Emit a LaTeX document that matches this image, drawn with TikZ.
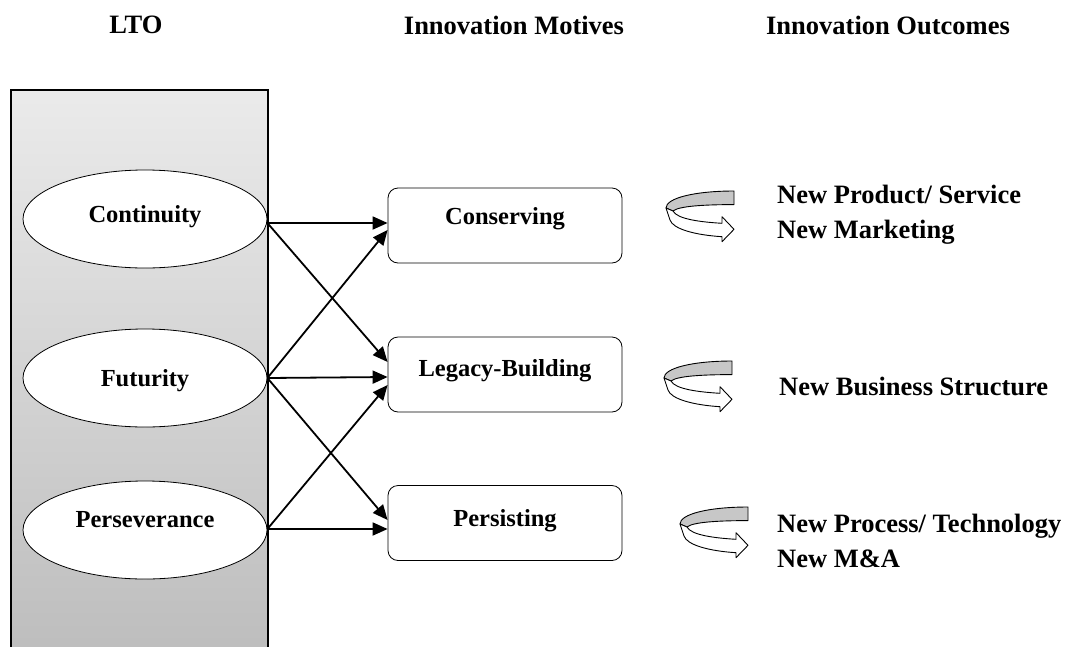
\documentclass[tikz,border=0pt]{standalone}
\usepackage{fontspec}
\setmainfont{Liberation Serif}
\usetikzlibrary{arrows.meta,
                shapes.geometric,
                positioning}

\begin{document}
\begin{tikzpicture}
[x=1pt,y=-1pt,>={Triangle[length=15pt,width=13pt]},
 every node/.style={font=\bfseries\fontsize{24.5}{29}\selectfont},
 head/.style={font=\bfseries\fontsize{26.5}{31}\selectfont},
 outcome/.style={font=\bfseries\fontsize{26.5}{35}\selectfont,align=left,anchor=west,inner sep=0pt},
 panel/.style={rectangle,draw,line width=1.3pt,top color=black!8,bottom color=black!26,minimum width=257pt,minimum height=570pt,inner sep=0pt},
 trait/.style={ellipse,draw,thick,fill=white,minimum width=244pt,minimum height=98pt,inner sep=0pt,text height=16pt},
 motive/.style={rectangle,draw,thick,rounded corners=10pt,fill=white,minimum width=234pt,minimum height=75pt,inner sep=0pt,text height=16pt},
 link/.style={->,line width=1.8pt},
 ribbon/.pic={
  \draw[fill=black!22,line width=0.9pt,line join=round]
   (69,0) .. controls (30,0) and (1,7) .. (1,17) -- (8,20)
   .. controls (14,15) and (40,13.6) .. (69,13.6) -- cycle;
  \draw[fill=white,line width=0.9pt,line join=round]
   (1,17) -- (5,29) .. controls (8,38) and (30,44) .. (57,45.7)
   -- (57,50.7) -- (69,38.3) -- (57,25.7) -- (57,32.3)
   .. controls (35,31) and (12,28) .. (8,20) -- cycle;
 }]

\useasboundingbox (0,0) rectangle (1066,646);

% column titles
\node [head] (hlto) at (136,25) {LTO};
\node [head] (hmot) at (514,25) {Innovation Motives};
\node [head] (hout) at (888,25) {Innovation Outcomes};

% LTO dimensions
\node [panel] (lto) at (139.5,375) {};
\node [trait,text depth=10pt] (cont) at (145,219) {Continuity};
\node [trait,text depth=0pt] (futu) at (145,378) {Futurity};
\node [trait,text depth=22pt] (perse) at (145,530) {Perseverance};

% motives
\node [motive,text depth=19pt] (cons) at (505,225.5) {Conserving};
\node [motive,text depth=12pt] (legb) at (505,374.5) {Legacy-Building};
\node [motive,text depth=10pt] (persi) at (505,523) {Persisting};

\draw [link] ([yshift=-4pt]cont.east) -- ([yshift=2.5pt]cons.west);
\draw [link] ([yshift=-4pt]cont.east) -- ([yshift=12.5pt]legb.west);
\draw [link] (futu.east) -- ([yshift=-4.5pt]cons.west);
\draw [link] (futu.east) -- ([yshift=-2.5pt]legb.west);
\draw [link] (futu.east) -- ([yshift=3pt]persi.west);
\draw [link] ([yshift=1pt]perse.east) -- ([yshift=-10.5pt]legb.west);
\draw [link] ([yshift=1pt]perse.east) -- ([yshift=-6pt]persi.west);

% outcomes
\pic (rib1) at (665,191) {ribbon};
\pic (rib2) at (663,361) {ribbon};
\pic (rib3) at (679,507) {ribbon};
\node [outcome] (out1) at (777,215) {New Product/ Service\\New Marketing};
\node [outcome] (out2) at (779,386) {New Business Structure};
\node [outcome] (out3) at (777,541) {New Process/ Technology\\New M\&A};
\end{tikzpicture}
\end{document}
